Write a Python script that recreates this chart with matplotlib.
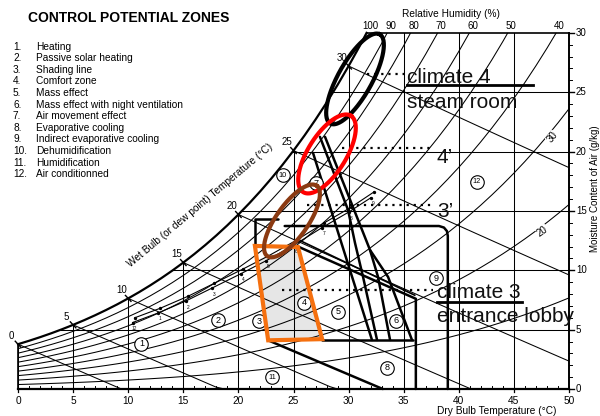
import numpy as np
import matplotlib
matplotlib.use("Agg")
import matplotlib.pyplot as plt
from matplotlib.patches import Polygon

plt.rcParams["font.family"] = ["Liberation Sans", "DejaVu Sans"]
plt.rcParams["hatch.linewidth"] = 0.7
plt.rcParams["hatch.color"] = "#8a8a8a"

# ---------------------------------------------------------------- data
# saturation vapour pressure of water (kPa), 0..50 degC in 1 degC steps
sat_temp = np.arange(0, 51)
sat_press = np.array([
    0.6113, 0.6571, 0.7060, 0.7581, 0.8135, 0.8726, 0.9354, 1.0021, 1.0730, 1.1482,
    1.2282, 1.3129, 1.4028, 1.4981, 1.5989, 1.7057, 1.8188, 1.9383, 2.0647, 2.1982,
    2.3392, 2.4881, 2.6452, 2.8109, 2.9856, 3.1697, 3.3637, 3.5679, 3.7828, 4.0089,
    4.2467, 4.4966, 4.7592, 5.0351, 5.3247, 5.6286, 5.9475, 6.2818, 6.6324, 6.9997,
    7.3844, 7.7873, 8.2090, 8.6503, 9.1118, 9.5944, 10.0988, 10.6259, 11.1764, 11.7512,
    12.3513])
P_ATM = 101.325

rh_levels = [10, 20, 30, 40, 50, 60, 70, 80, 90]
rh_top_labels = [100, 90, 80, 70, 60, 50, 40]
wet_bulb_levels = [0, 5, 10, 15, 20, 25, 30]
dry_bulb_ticks = [0, 5, 10, 15, 20, 25, 30, 35, 40, 45, 50]
moisture_ticks = [0, 5, 10, 15, 20, 25, 30]

legend_items = [
    "Heating", "Passive solar heating", "Shading line", "Comfort zone",
    "Mass effect", "Mass effect with night ventilation", "Air movement effect",
    "Evaporative cooling", "Indirect evaporative cooling", "Dehumidification",
    "Humidification", "Air conditionned",
]

# circled zone numbers: (zone, dry bulb degC, moisture g/kg)
zone_marks = [
    (1, 11.2, 3.8), (2, 18.15, 5.8), (3, 21.9, 5.7), (4, 25.95, 7.25),
    (5, 29.05, 6.5), (6, 34.3, 5.75), (7, 27.05, 17.35), (8, 33.5, 1.8),
    (9, 37.95, 9.35), (10, 24.05, 18.0), (11, 23.05, 1.0), (12, 41.65, 17.45),
]

# zone boundaries (dry bulb degC, moisture g/kg)
zone9_edge = [(24.2, 13.73), (38.2, 13.73), (38.65, 13.6), (38.92, 13.3), (39.0, 12.9), (39.0, 0.0)]
zone8_edge = [(25.4, 12.0), (36.1, 7.6), (36.1, 0.0)]
zone8_inner = [(25.6, 12.5), (36.0, 7.9)]
zone5_base = [(27.6, 4.13), (35.8, 4.13)]
zone11_edge = [(22.7, 4.1), (33.1, 0.0)]
zone10_edge = [(21.5, 11.9), (21.5, 14.3), (23.6, 14.3)]
vent_lines = [
    [(26.77, 19.89), (32.12, 4.13)],
    [(27.40, 21.24), (29.95, 15.08), (30.58, 12.30), (31.31, 9.44), (32.58, 4.13)],
    [(27.86, 21.24), (31.22, 13.40), (31.94, 11.71), (32.67, 9.44), (33.76, 4.13)],
    [(31.94, 11.71), (33.58, 9.44), (35.75, 4.13)],
]

# comfort zone outline and its shaded core
comfort_outline = [(21.5, 12.05), (25.4, 11.96), (27.6, 4.2), (22.7, 4.1)]
comfort_core = [(21.7, 10.9), (25.3, 11.9), (27.6, 4.2), (22.7, 4.1)]

# monthly climate track (dry bulb degC, moisture g/kg)
track_lo = [(10.4, 5.6), (12.7, 6.4), (15.2, 7.4), (17.6, 8.5), (20.2, 9.7),
            (22.5, 10.8), (25.0, 12.1), (27.6, 13.6), (30.0, 14.9), (32.0, 16.1)]
track_hi = [(10.6, 6.0), (12.9, 6.8), (15.4, 7.8), (17.8, 8.9), (20.4, 10.1),
            (22.7, 11.2), (25.2, 12.5), (27.8, 14.0), (30.2, 15.3), (32.3, 16.6)]
track_names = ["12", "1", "2", "3", "4", "5", "6", "7", "8", "9"]

# climate ellipses: centre (degC, g/kg), semi-axes (px), angle (deg), colour
ellipses = [
    ((30.58, 26.12), 51, 17, 61, "#000000"),
    ((28.04, 19.80), 45, 19, 58, "#ff0000"),
    ((24.86, 14.16), 43, 16, 55, "#8b3a12"),
]

# ---------------------------------------------------------------- figure
W_PX, H_PX = 600, 416
fig = plt.figure(figsize=(W_PX / 100, H_PX / 100), dpi=100)
ax = fig.add_axes([0, 0, 1, 1])
X0, X1 = -1.633, 52.81
Y0, Y1 = -2.275, 32.77
ax.set_xlim(X0, X1)
ax.set_ylim(Y0, Y1)
ax.axis("off")
SX = W_PX / (X1 - X0)   # px per degC
SY = H_PX / (Y1 - Y0)   # px per g/kg


def moisture(phi, p):
    """Moisture content (g/kg) at relative humidity phi and saturation pressure p."""
    pv = phi * p
    return 622.0 * pv / (P_ATM - pv)


ws = moisture(1.0, sat_press)
t_top = float(np.interp(30.0, ws, sat_temp))

# clip region: under the saturation curve and below 30 g/kg
keep = sat_temp < t_top
clip_x = [0.0] + list(sat_temp[keep]) + [t_top, 50.0, 50.0, 0.0]
clip_y = [0.0] + list(ws[keep]) + [30.0, 30.0, 0.0, 0.0]
clip = Polygon(np.column_stack([clip_x, clip_y]), closed=True,
               transform=ax.transData, facecolor="none", edgecolor="none")
ax.add_patch(clip)

GRID = dict(color="black", lw=0.75, zorder=2)

# relative humidity curves
for rh in rh_levels:
    ln, = ax.plot(sat_temp, moisture(rh / 100.0, sat_press), **GRID)
    ln.set_clip_path(clip)

# saturation curve
ax.plot(list(sat_temp[keep]) + [t_top], list(ws[keep]) + [30.0],
        color="black", lw=1.6, zorder=3)

# wet bulb lines
for twb in wet_bulb_levels:
    wsat = ws[twb] / 1000.0
    tt = np.linspace(twb, 50, 60)
    w = ((2501 - 2.326 * twb) * wsat - 1.006 * (tt - twb)) / (2501 + 1.86 * tt - 4.186 * twb)
    ok = w >= -0.0005
    ln, = ax.plot(tt[ok], np.clip(w[ok], 0, None) * 1000, **GRID)
    ln.set_clip_path(clip)
    ax.plot([twb - 0.25, twb + 0.25], [ws[twb] + 0.25, ws[twb] - 0.25], color="black", lw=1.0, zorder=3)
    ax.annotate(str(twb), (twb, ws[twb]), xytext=(-5, 6), textcoords="offset points",
                ha="center", va="center", fontsize=7)

# dry bulb verticals and moisture horizontals
for t in dry_bulb_ticks[:-1]:
    top = min(float(np.interp(t, sat_temp, ws)), 30.0)
    ax.plot([t, t], [0, top], **GRID)
for wv in moisture_ticks[1:-1]:
    t0 = float(np.interp(wv, ws, sat_temp))
    ax.plot([t0, 50], [wv, wv], **GRID)

# frame: base, right axis, top line
ax.plot([0, 50], [0, 0], color="black", lw=1.6, zorder=3)
ax.plot([50, 50], [0, 30], color="black", lw=1.4, zorder=3)
ax.plot([t_top, 50], [30, 30], color="black", lw=1.2, zorder=3)
ax.plot([0, 0], [0, ws[0]], color="black", lw=1.2, zorder=3)

for t in range(0, 51):
    ax.plot([t, t], [0, 3 / SY], color="black", lw=0.7, zorder=3)
for t in dry_bulb_ticks:
    ax.plot([t, t], [0, -3 / SY], color="black", lw=0.9, zorder=3)
    ax.text(t, -12 / SY, str(t), ha="center", va="center", fontsize=7.3)
for wv in range(0, 31):
    ax.plot([50, 50 + 2.5 / SX], [wv, wv], color="black", lw=0.7, zorder=3)
for wv in moisture_ticks:
    ax.plot([50, 50 + 5 / SX], [wv, wv], color="black", lw=1.0, zorder=3)
    ax.text(50 + 7 / SX, wv, str(wv), ha="left", va="center", fontsize=7)

# relative humidity labels along the top
for rh in rh_top_labels:
    t_hit = float(np.interp(30.0, moisture(rh / 100.0, sat_press), sat_temp))
    ax.text(t_hit + 0.3, 30 + 7 / SY, str(rh), ha="center", va="center", fontsize=7)
ax.text(39.3, 31.6, "Relative Humidity (%)", ha="center", va="center", fontsize=7.3)
ax.text(48.5, 21.2, "30", rotation=52, ha="center", va="center", fontsize=7,
        bbox=dict(facecolor="white", edgecolor="none", pad=0.3), zorder=4)
ax.text(47.6, 13.3, "20", rotation=35, ha="center", va="center", fontsize=7,
        bbox=dict(facecolor="white", edgecolor="none", pad=0.3), zorder=4)

ax.text(43.4, -1.85, "Dry Bulb Temperature (\u00b0C)", ha="center", va="center", fontsize=7.3)
ax.text(52.4, 16.9, "Moisture Content of Air (g/kg)", rotation=90,
        ha="center", va="center", fontsize=7)
ax.text(16.5, 15.5, "Wet Bulb (or dew point) Temperature (\u00b0C)", rotation=40,
        ha="center", va="center", fontsize=7.3)

# title and legend
ax.text(28 / SX + X0, Y1 - 18 / SY, "CONTROL POTENTIAL ZONES", ha="left", va="center",
        fontsize=10, fontweight="bold")
for i, item in enumerate(legend_items):
    yy = Y1 - (46.7 + 11.6 * i) / SY
    ax.text(13 / SX + X0, yy, f"{i + 1}.", ha="left", va="center", fontsize=7.3)
    ax.text(36 / SX + X0, yy, item, ha="left", va="center", fontsize=7.3)

# comfort zone
ax.add_patch(Polygon(comfort_core, closed=True, facecolor="#e6e6e6", edgecolor="none",
                     hatch="......", zorder=1))

# zone boundaries
THICK = dict(color="black", lw=1.8, zorder=5, solid_capstyle="round", solid_joinstyle="round")
for line in [zone9_edge, zone8_edge, zone5_base, zone11_edge, zone10_edge] + vent_lines:
    xs, ys = zip(*line)
    ax.plot(xs, ys, **THICK)
xs, ys = zip(*zone8_inner)
ax.plot(xs, ys, color="black", lw=1.2, zorder=5)

# monthly track
for trk in (track_lo, track_hi):
    xs, ys = zip(*trk)
    ax.plot(xs, ys, color="black", lw=0.8, zorder=5, marker="o", ms=1.4)
for (tx, ty), name in zip(track_lo, track_names):
    ax.text(tx + 0.2, ty - 0.5, name, fontsize=3.5, ha="center", va="center", zorder=6)

# circled zone numbers
for num, zt, zw in zone_marks:
    ax.scatter([zt], [zw], s=95, facecolors="white", edgecolors="black", linewidths=0.8, zorder=7)
    ax.text(zt, zw, str(num), ha="center", va="center", fontsize=6.5 if num < 10 else 5.3, zorder=8)

# comfort outline
ax.add_patch(Polygon(comfort_outline, closed=True, facecolor="none", edgecolor="#f5700f",
                     lw=3.0, joinstyle="miter", zorder=9))

# climate ellipses
phi = np.linspace(0, 2 * np.pi, 200)
for (cx, cy), a, b, ang, col in ellipses:
    th = np.radians(ang)
    dx = a * np.cos(phi) * np.cos(th) - b * np.sin(phi) * np.sin(th)
    dy = a * np.cos(phi) * np.sin(th) + b * np.sin(phi) * np.cos(th)
    ax.plot(cx + dx / SX, cy + dy / SY, color=col, lw=3.0, zorder=9)

# climate annotations
DOT = dict(color="black", lw=1.6, ls=(0, (1, 2.2)), zorder=8)
ANN = dict(fontsize=15, color="#111111", zorder=10, ha="left", va="baseline")
ax.plot([31.7, 35.0], [26.5, 26.5], **DOT)
ax.text(35.3, 25.78, "climate 4", **ANN)
ax.plot([35.3, 46.7], [25.6, 25.6], color="black", lw=2.0, zorder=10)
ax.text(35.3, 23.67, "steam room", **ANN)

ax.plot([29.4, 37.7], [20.3, 20.3], **DOT)
ax.text(38.0, 19.04, "4\u2019", **ANN)

ax.plot([26.2, 37.6], [15.5, 15.5], **DOT)
ax.text(38.0, 14.5, "3\u2019", **ANN)

ax.plot([24.0, 37.7], [8.34, 8.34], **DOT)
ax.text(38.0, 7.67, "climate 3", **ANN)
ax.plot([38.0, 45.7], [7.33, 7.33], color="black", lw=2.0, zorder=10)
ax.text(38.0, 5.64, "entrance lobby", **ANN)

fig.savefig("out.png", dpi=100)
